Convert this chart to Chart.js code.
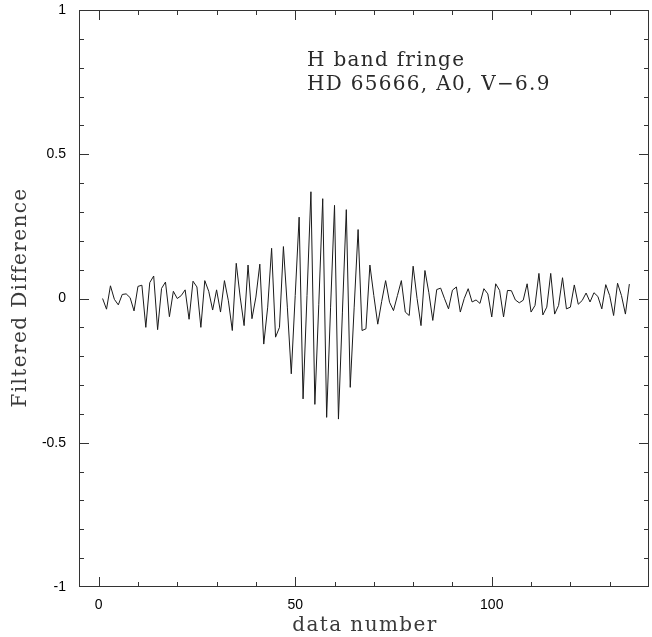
<!DOCTYPE html>
<html lang="en">
<head>
  <meta charset="UTF-8">
  <title>H band fringe - HD 65666</title>
  <style>
    html, body {
      margin: 0;
      padding: 0;
      background: #fff;
    }
    #wrap {
      width: 652px;
      height: 637px;
    }
  </style>
</head>
<body>

  <div id="wrap"><canvas id="fringeChart" width="652" height="637"></canvas></div>

  <script src="https://cdn.jsdelivr.net/npm/chart.js"></script>
  <script>
    // Filtered difference, one value per data number (1..135)
    var filteredDiff = [
       0.000, -0.037,  0.044, -0.003, -0.022,  0.014,  0.016,  0.003, -0.043,  0.042,
       0.046, -0.100,  0.055,  0.078, -0.108,  0.035,  0.057, -0.063,  0.025,  0.000,
       0.010,  0.030, -0.072,  0.060,  0.040, -0.100,  0.062,  0.025, -0.040,  0.030,
      -0.047,  0.062, -0.008, -0.111,  0.122,  0.005, -0.094,  0.116, -0.070,  0.005,
       0.119, -0.158, -0.030,  0.174, -0.134, -0.100,  0.180, -0.030, -0.261,  0.010,
       0.282, -0.348,  0.010,  0.370, -0.367, -0.020,  0.346, -0.412, -0.030,  0.323,
      -0.418, -0.050,  0.308, -0.308, -0.030,  0.239, -0.111, -0.105,  0.116,  0.010,
      -0.089, -0.010,  0.062, -0.013, -0.042,  0.010,  0.062, -0.047, -0.059,  0.112,
       0.000, -0.094,  0.097,  0.020, -0.076,  0.031,  0.036, -0.001, -0.036,  0.029,
       0.040, -0.047,  0.000,  0.034, -0.012, -0.005, -0.017,  0.034,  0.016, -0.064,
       0.051,  0.028, -0.064,  0.028,  0.027, -0.005, -0.015, -0.006,  0.051, -0.047,
      -0.024,  0.087, -0.057, -0.030,  0.087, -0.054, -0.024,  0.072, -0.036, -0.030,
       0.047, -0.020, -0.007,  0.019, -0.012,  0.020,  0.007, -0.036,  0.048,  0.010,
      -0.059,  0.053,  0.010, -0.054,  0.050
    ];
    // data number is just the sample index
    var dataNumber = filteredDiff.map(function (v, i) { return i + 1; });

    var xTickLabels = [0, 50, 100];
    var yTickLabels = [-1, -0.5, 0, 0.5, 1];
    var xTitle = 'data number';
    var yTitle = 'Filtered Difference';
    var noteLines = ['H band fringe', 'HD 65666, A0, V\u22126.9'];

    var points = dataNumber.map(function (n, i) { return { x: n, y: filteredDiff[i] }; });

    // frame + inward ticks on all four sides, axis titles and the note text
    var framePlugin = {
      id: 'frame',
      afterDraw: function (chart) {
        var ctx = chart.ctx;
        var a = chart.chartArea;
        var xs = chart.scales.x;
        var ys = chart.scales.y;
        ctx.save();
        ctx.strokeStyle = '#333';
        ctx.lineWidth = 1;
        ctx.strokeRect(a.left + 0.5, a.top + 0.5, a.right - a.left - 1, a.bottom - a.top - 1);

        ctx.beginPath();
        for (var t = 0; t < 140; t += 10) {
          var px = Math.round(xs.getPixelForValue(t)) + 0.5;
          var len = (t % 50 === 0) ? 10 : 5;
          ctx.moveTo(px, a.bottom); ctx.lineTo(px, a.bottom - len);
          ctx.moveTo(px, a.top); ctx.lineTo(px, a.top + len);
        }
        for (var k = -9; k <= 9; k++) {
          var py = Math.round(ys.getPixelForValue(k / 10)) + 0.5;
          var ylen = (k % 5 === 0) ? 10 : 5;
          ctx.moveTo(a.left, py); ctx.lineTo(a.left + ylen, py);
          ctx.moveTo(a.right, py); ctx.lineTo(a.right - ylen, py);
        }
        ctx.stroke();

        // pgplot-ish wide serif lettering
        ctx.font = '20px "DejaVu Serif"';
        ctx.letterSpacing = '1.3px';
        ctx.textBaseline = 'alphabetic';

        ctx.fillStyle = '#2a2a2a';
        ctx.textAlign = 'left';
        ctx.fillText(noteLines[0], xs.getPixelForValue(53.0), ys.getPixelForValue(0.806));
        ctx.fillText(noteLines[1], xs.getPixelForValue(53.0), ys.getPixelForValue(0.723));

        ctx.fillStyle = '#3a3a3a';
        ctx.letterSpacing = '1.4px';
        ctx.textAlign = 'center';
        ctx.fillText(xTitle, (a.left + a.right) / 2 + 1, 631);

        ctx.translate(26, (a.top + a.bottom) / 2);
        ctx.rotate(-Math.PI / 2);
        ctx.fillText(yTitle, 1, 0);
        ctx.restore();
      }
    };

    var ctx = document.getElementById('fringeChart').getContext('2d');
    var fringeChart = new Chart(ctx, {
      type: 'line',
      data: {
        datasets: [{
          label: yTitle,
          data: points,
          borderColor: '#1a1a1a',
          borderWidth: 1,
          pointRadius: 0,
          tension: 0,
          fill: false
        }]
      },
      options: {
        responsive: false,
        animation: false,
        layout: { padding: { top: 10, right: 3, left: 0, bottom: 0 } },
        plugins: {
          legend: { display: false },
          tooltip: { enabled: false }
        },
        scales: {
          x: {
            type: 'linear',
            min: -5,
            max: 140,
            grid: { display: false, drawTicks: false },
            border: { display: false },
            afterBuildTicks: function (scale) {
              scale.ticks = xTickLabels.map(function (v) { return { value: v }; });
            },
            afterFit: function (scale) {
              scale.height = 50;
              scale.paddingLeft = 0;
              scale.paddingRight = 0;
            },
            ticks: {
              padding: 10,
              color: '#000',
              font: { family: '"Liberation Sans", Arial, sans-serif', size: 14 },
              maxRotation: 0,
              callback: function (v) { return String(v); }
            }
          },
          y: {
            min: -1,
            max: 1,
            grid: { display: false, drawTicks: false },
            border: { display: false },
            afterBuildTicks: function (scale) {
              scale.ticks = yTickLabels.map(function (v) { return { value: v }; });
            },
            afterFit: function (scale) {
              scale.width = 79;
              scale.paddingTop = 0;
              scale.paddingBottom = 0;
            },
            ticks: {
              padding: 13,
              color: '#000',
              font: { family: '"Liberation Sans", Arial, sans-serif', size: 14 },
              callback: function (v) { return String(v); }
            }
          }
        }
      },
      plugins: [framePlugin]
    });
  </script>

</body>
</html>
